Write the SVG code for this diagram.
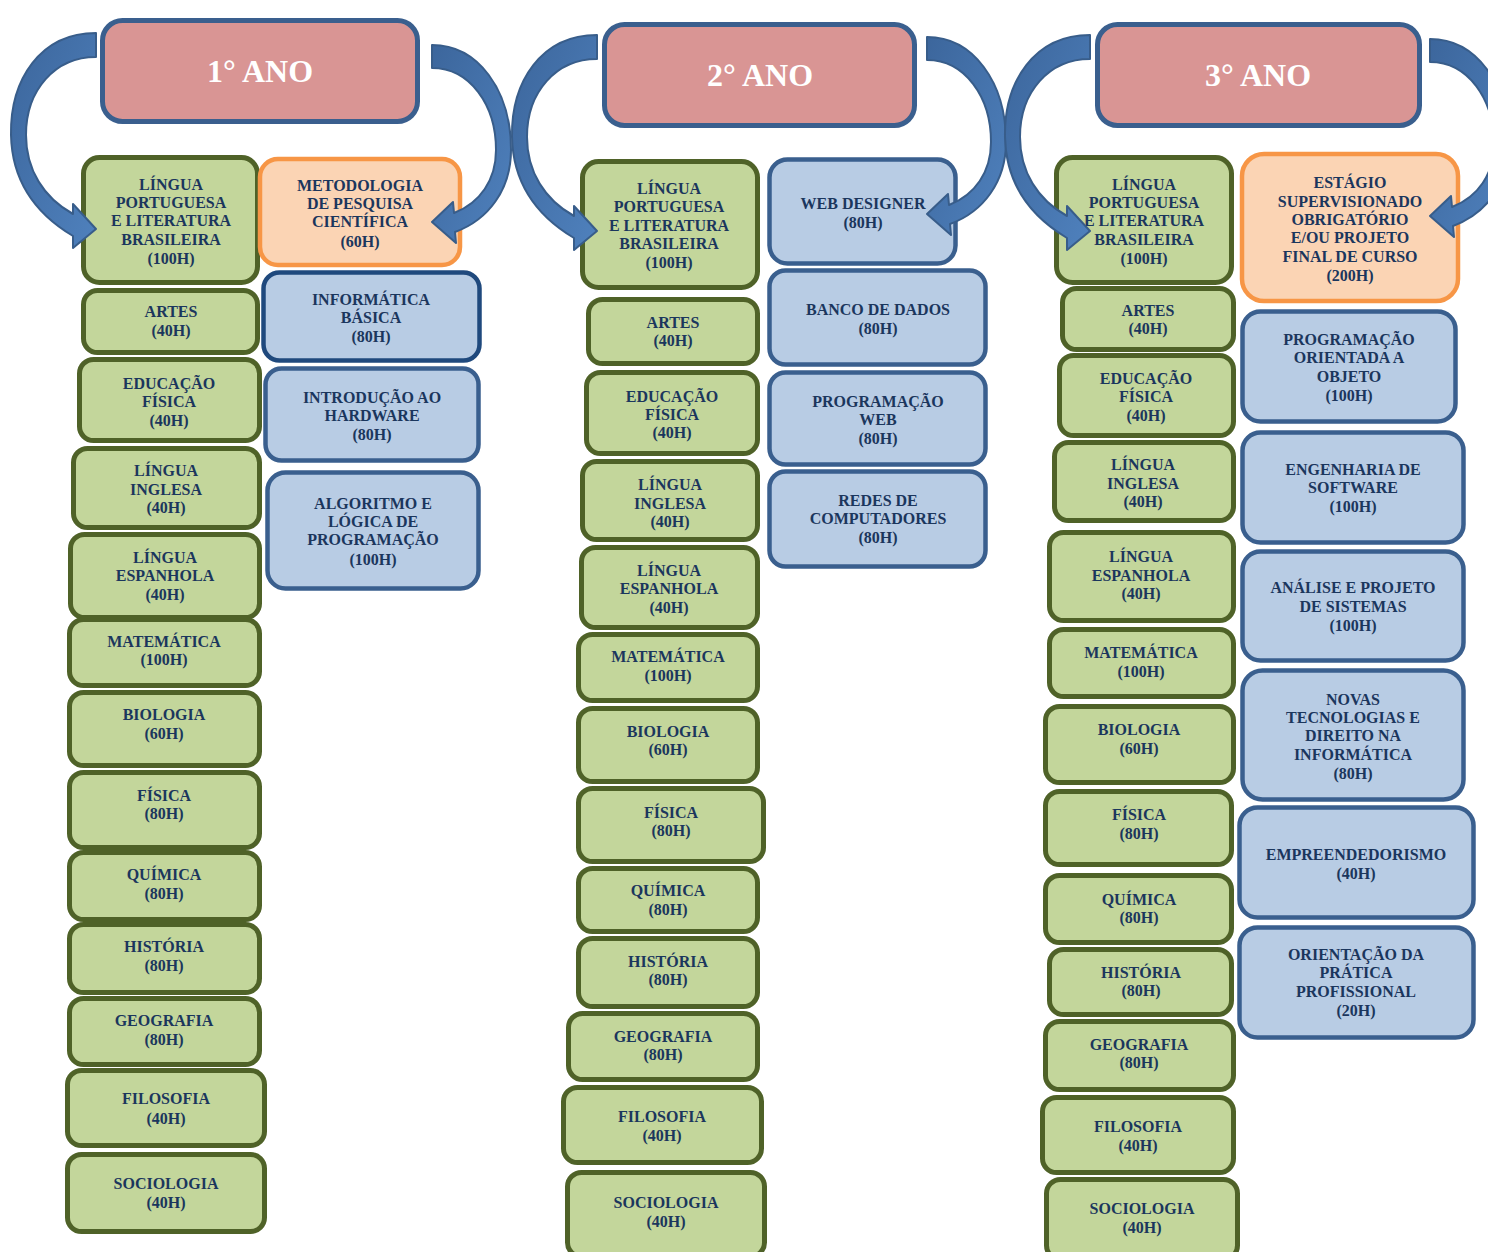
<svg xmlns="http://www.w3.org/2000/svg" width="1488" height="1252" viewBox="0 0 1488 1252">
<defs>
<style>
.hdr{fill:#D99594;stroke:#3A5F8E;stroke-width:5}
.ht{font-family:"Liberation Serif",serif;font-weight:bold;font-size:32px;fill:#FFFFFF;text-anchor:middle}
.g{fill:#C3D69B;stroke:#4F6228;stroke-width:5}
.o{fill:#FBD4B4;stroke:#F79646;stroke-width:4.5}
.b{fill:#B8CCE4;stroke:#3A5F8E;stroke-width:4.5}
.bd{fill:#B8CCE4;stroke:#1F497D;stroke-width:4.5}
.t{font-family:"Liberation Serif",serif;font-weight:bold;font-size:16px;fill:#1B365D;text-anchor:middle}
.arr{fill:url(#ag);stroke:#385D8A;stroke-width:2;stroke-linejoin:round}
</style>
<linearGradient id="ag" x1="0" y1="0" x2="1" y2="1">
<stop offset="0" stop-color="#3C669C"/>
<stop offset="1" stop-color="#4F81BD"/>
</linearGradient>
<path id="larr" d="M 96,33 C 40,33 10,80 11,135 C 12,182 36,214 73,236 L 73,248 L 96,229 L 73,204 L 73,214 C 44,198 26,170 26,135 C 26,90 55,57 96,57 Z"/>
<path id="rarr" d="M 432,45 C 478,45 511,90 511,150 C 511,190 488,220 455,232 L 456,243 L 432,222 L 453,202 L 454,213 C 480,203 496,180 496,150 C 496,105 470,68 432,68 Z"/>
</defs>
<rect width="1488" height="1252" fill="#FFFFFF"/>

<g id="ano1">
<rect class="hdr" x="102.5" y="20.5" width="315" height="101" rx="20"/>
<text class="ht" x="260" y="82">1° ANO</text>
</g>
<g id="ano2">
<rect class="hdr" x="604.5" y="24.5" width="310" height="101" rx="20"/>
<text class="ht" x="760" y="86">2° ANO</text>
</g>
<g id="ano3">
<rect class="hdr" x="1097.5" y="24.5" width="322" height="101" rx="20"/>
<text class="ht" x="1258" y="86">3° ANO</text>
</g>

<!-- Year 1 green -->
<g id="a1-lp"><rect class="g" x="83.5" y="157.5" width="174" height="125" rx="16"/>
<text class="t"><tspan x="171" y="190">LÍNGUA</tspan><tspan x="171" y="208">PORTUGUESA</tspan><tspan x="171" y="226">E LITERATURA</tspan><tspan x="171" y="245">BRASILEIRA</tspan><tspan x="171" y="264">(100H)</tspan></text></g>
<g id="a1-artes"><rect class="g" x="83.5" y="290.5" width="174" height="62" rx="14"/>
<text class="t"><tspan x="171" y="317">ARTES</tspan><tspan x="171" y="336">(40H)</tspan></text></g>
<g id="a1-edf"><rect class="g" x="79.5" y="359.5" width="180" height="81" rx="14"/>
<text class="t"><tspan x="169" y="389">EDUCAÇÃO</tspan><tspan x="169" y="407">FÍSICA</tspan><tspan x="169" y="426">(40H)</tspan></text></g>
<g id="a1-ing"><rect class="g" x="73.5" y="448.5" width="186" height="79" rx="14"/>
<text class="t"><tspan x="166" y="476">LÍNGUA</tspan><tspan x="166" y="495">INGLESA</tspan><tspan x="166" y="513">(40H)</tspan></text></g>
<g id="a1-esp"><rect class="g" x="70.5" y="534.5" width="189" height="83" rx="14"/>
<text class="t"><tspan x="165" y="563">LÍNGUA</tspan><tspan x="165" y="581">ESPANHOLA</tspan><tspan x="165" y="600">(40H)</tspan></text></g>
<g id="a1-mat"><rect class="g" x="69.5" y="619.5" width="190" height="66" rx="14"/>
<text class="t"><tspan x="164" y="647">MATEMÁTICA</tspan><tspan x="164" y="665">(100H)</tspan></text></g>
<g id="a1-bio"><rect class="g" x="69.5" y="692.5" width="190" height="73" rx="14"/>
<text class="t"><tspan x="164" y="720">BIOLOGIA</tspan><tspan x="164" y="739">(60H)</tspan></text></g>
<g id="a1-fis"><rect class="g" x="69.5" y="772.5" width="190" height="75" rx="14"/>
<text class="t"><tspan x="164" y="801">FÍSICA</tspan><tspan x="164" y="819">(80H)</tspan></text></g>
<g id="a1-qui"><rect class="g" x="69.5" y="852.5" width="190" height="67" rx="14"/>
<text class="t"><tspan x="164" y="880">QUÍMICA</tspan><tspan x="164" y="899">(80H)</tspan></text></g>
<g id="a1-his"><rect class="g" x="69.5" y="924.5" width="190" height="68" rx="14"/>
<text class="t"><tspan x="164" y="952">HISTÓRIA</tspan><tspan x="164" y="971">(80H)</tspan></text></g>
<g id="a1-geo"><rect class="g" x="69.5" y="998.5" width="190" height="66" rx="14"/>
<text class="t"><tspan x="164" y="1026">GEOGRAFIA</tspan><tspan x="164" y="1045">(80H)</tspan></text></g>
<g id="a1-fil"><rect class="g" x="67.5" y="1070.5" width="197" height="75" rx="14"/>
<text class="t"><tspan x="166" y="1104">FILOSOFIA</tspan><tspan x="166" y="1124">(40H)</tspan></text></g>
<g id="a1-soc"><rect class="g" x="67.5" y="1154.5" width="197" height="77" rx="14"/>
<text class="t"><tspan x="166" y="1189">SOCIOLOGIA</tspan><tspan x="166" y="1208">(40H)</tspan></text></g>

<!-- Year 1 right -->
<g id="a1-met"><rect class="o" x="260" y="159" width="200" height="106" rx="18"/>
<text class="t"><tspan x="360" y="191">METODOLOGIA</tspan><tspan x="360" y="209">DE PESQUISA</tspan><tspan x="360" y="227">CIENTÍFICA</tspan><tspan x="360" y="247">(60H)</tspan></text></g>
<g id="a1-inf"><rect class="bd" x="263.5" y="272.5" width="216" height="88" rx="16"/>
<text class="t"><tspan x="371" y="305">INFORMÁTICA</tspan><tspan x="371" y="323">BÁSICA</tspan><tspan x="371" y="342">(80H)</tspan></text></g>
<g id="a1-hw"><rect class="b" x="265.5" y="368.5" width="213" height="92" rx="16"/>
<text class="t"><tspan x="372" y="403">INTRODUÇÃO AO</tspan><tspan x="372" y="421">HARDWARE</tspan><tspan x="372" y="440">(80H)</tspan></text></g>
<g id="a1-alg"><rect class="b" x="267.5" y="472.5" width="211" height="116" rx="18"/>
<text class="t"><tspan x="373" y="509">ALGORITMO E</tspan><tspan x="373" y="527">LÓGICA DE</tspan><tspan x="373" y="545">PROGRAMAÇÃO</tspan><tspan x="373" y="565">(100H)</tspan></text></g>

<!-- Year 2 green -->
<g id="a2-lp"><rect class="g" x="582.5" y="161.5" width="175" height="126" rx="16"/>
<text class="t"><tspan x="669" y="194">LÍNGUA</tspan><tspan x="669" y="212">PORTUGUESA</tspan><tspan x="669" y="231">E LITERATURA</tspan><tspan x="669" y="249">BRASILEIRA</tspan><tspan x="669" y="268">(100H)</tspan></text></g>
<g id="a2-artes"><rect class="g" x="588.5" y="299.5" width="169" height="64" rx="14"/>
<text class="t"><tspan x="673" y="328">ARTES</tspan><tspan x="673" y="346">(40H)</tspan></text></g>
<g id="a2-edf"><rect class="g" x="586.5" y="372.5" width="171" height="81" rx="14"/>
<text class="t"><tspan x="672" y="402">EDUCAÇÃO</tspan><tspan x="672" y="420">FÍSICA</tspan><tspan x="672" y="438">(40H)</tspan></text></g>
<g id="a2-ing"><rect class="g" x="582.5" y="461.5" width="175" height="78" rx="14"/>
<text class="t"><tspan x="670" y="490">LÍNGUA</tspan><tspan x="670" y="509">INGLESA</tspan><tspan x="670" y="527">(40H)</tspan></text></g>
<g id="a2-esp"><rect class="g" x="581.5" y="547.5" width="176" height="80" rx="14"/>
<text class="t"><tspan x="669" y="576">LÍNGUA</tspan><tspan x="669" y="594">ESPANHOLA</tspan><tspan x="669" y="613">(40H)</tspan></text></g>
<g id="a2-mat"><rect class="g" x="578.5" y="634.5" width="179" height="66" rx="14"/>
<text class="t"><tspan x="668" y="662">MATEMÁTICA</tspan><tspan x="668" y="681">(100H)</tspan></text></g>
<g id="a2-bio"><rect class="g" x="578.5" y="708.5" width="179" height="73" rx="14"/>
<text class="t"><tspan x="668" y="737">BIOLOGIA</tspan><tspan x="668" y="755">(60H)</tspan></text></g>
<g id="a2-fis"><rect class="g" x="578.5" y="788.5" width="185" height="73" rx="14"/>
<text class="t"><tspan x="671" y="818">FÍSICA</tspan><tspan x="671" y="836">(80H)</tspan></text></g>
<g id="a2-qui"><rect class="g" x="578.5" y="868.5" width="179" height="63" rx="14"/>
<text class="t"><tspan x="668" y="896">QUÍMICA</tspan><tspan x="668" y="915">(80H)</tspan></text></g>
<g id="a2-his"><rect class="g" x="578.5" y="938.5" width="179" height="68" rx="14"/>
<text class="t"><tspan x="668" y="967">HISTÓRIA</tspan><tspan x="668" y="985">(80H)</tspan></text></g>
<g id="a2-geo"><rect class="g" x="568.5" y="1013.5" width="189" height="66" rx="14"/>
<text class="t"><tspan x="663" y="1042">GEOGRAFIA</tspan><tspan x="663" y="1060">(80H)</tspan></text></g>
<g id="a2-fil"><rect class="g" x="563.5" y="1087.5" width="198" height="75" rx="14"/>
<text class="t"><tspan x="662" y="1122">FILOSOFIA</tspan><tspan x="662" y="1141">(40H)</tspan></text></g>
<g id="a2-soc"><rect class="g" x="567.5" y="1172.5" width="197" height="84" rx="14"/>
<text class="t"><tspan x="666" y="1208">SOCIOLOGIA</tspan><tspan x="666" y="1227">(40H)</tspan></text></g>

<!-- Year 2 blue -->
<g id="a2-web"><rect class="b" x="769.5" y="159.5" width="186" height="104" rx="18"/>
<text class="t"><tspan x="863" y="209">WEB DESIGNER</tspan><tspan x="863" y="228">(80H)</tspan></text></g>
<g id="a2-bd"><rect class="b" x="769.5" y="270.5" width="216" height="94" rx="16"/>
<text class="t"><tspan x="878" y="315">BANCO DE DADOS</tspan><tspan x="878" y="334">(80H)</tspan></text></g>
<g id="a2-pw"><rect class="b" x="769.5" y="372.5" width="216" height="92" rx="16"/>
<text class="t"><tspan x="878" y="407">PROGRAMAÇÃO</tspan><tspan x="878" y="425">WEB</tspan><tspan x="878" y="444">(80H)</tspan></text></g>
<g id="a2-redes"><rect class="b" x="769.5" y="471.5" width="216" height="95" rx="16"/>
<text class="t"><tspan x="878" y="506">REDES DE</tspan><tspan x="878" y="524">COMPUTADORES</tspan><tspan x="878" y="543">(80H)</tspan></text></g>

<!-- Year 3 green -->
<g id="a3-lp"><rect class="g" x="1056.5" y="157.5" width="175" height="125" rx="16"/>
<text class="t"><tspan x="1144" y="190">LÍNGUA</tspan><tspan x="1144" y="208">PORTUGUESA</tspan><tspan x="1144" y="226">E LITERATURA</tspan><tspan x="1144" y="245">BRASILEIRA</tspan><tspan x="1144" y="264">(100H)</tspan></text></g>
<g id="a3-artes"><rect class="g" x="1062.5" y="288.5" width="171" height="61" rx="14"/>
<text class="t"><tspan x="1148" y="316">ARTES</tspan><tspan x="1148" y="334">(40H)</tspan></text></g>
<g id="a3-edf"><rect class="g" x="1059.5" y="355.5" width="174" height="80" rx="14"/>
<text class="t"><tspan x="1146" y="384">EDUCAÇÃO</tspan><tspan x="1146" y="402">FÍSICA</tspan><tspan x="1146" y="421">(40H)</tspan></text></g>
<g id="a3-ing"><rect class="g" x="1054.5" y="442.5" width="179" height="78" rx="14"/>
<text class="t"><tspan x="1143" y="470">LÍNGUA</tspan><tspan x="1143" y="489">INGLESA</tspan><tspan x="1143" y="507">(40H)</tspan></text></g>
<g id="a3-esp"><rect class="g" x="1049.5" y="532.5" width="184" height="88" rx="14"/>
<text class="t"><tspan x="1141" y="562">LÍNGUA</tspan><tspan x="1141" y="581">ESPANHOLA</tspan><tspan x="1141" y="599">(40H)</tspan></text></g>
<g id="a3-mat"><rect class="g" x="1049.5" y="629.5" width="184" height="67" rx="14"/>
<text class="t"><tspan x="1141" y="658">MATEMÁTICA</tspan><tspan x="1141" y="677">(100H)</tspan></text></g>
<g id="a3-bio"><rect class="g" x="1045.5" y="706.5" width="188" height="76" rx="14"/>
<text class="t"><tspan x="1139" y="735">BIOLOGIA</tspan><tspan x="1139" y="754">(60H)</tspan></text></g>
<g id="a3-fis"><rect class="g" x="1045.5" y="791.5" width="186" height="73" rx="14"/>
<text class="t"><tspan x="1139" y="820">FÍSICA</tspan><tspan x="1139" y="839">(80H)</tspan></text></g>
<g id="a3-qui"><rect class="g" x="1045.5" y="875.5" width="186" height="67" rx="14"/>
<text class="t"><tspan x="1139" y="905">QUÍMICA</tspan><tspan x="1139" y="923">(80H)</tspan></text></g>
<g id="a3-his"><rect class="g" x="1049.5" y="949.5" width="182" height="65" rx="14"/>
<text class="t"><tspan x="1141" y="978">HISTÓRIA</tspan><tspan x="1141" y="996">(80H)</tspan></text></g>
<g id="a3-geo"><rect class="g" x="1045.5" y="1021.5" width="188" height="68" rx="14"/>
<text class="t"><tspan x="1139" y="1050">GEOGRAFIA</tspan><tspan x="1139" y="1068">(80H)</tspan></text></g>
<g id="a3-fil"><rect class="g" x="1042.5" y="1097.5" width="191" height="75" rx="14"/>
<text class="t"><tspan x="1138" y="1132">FILOSOFIA</tspan><tspan x="1138" y="1151">(40H)</tspan></text></g>
<g id="a3-soc"><rect class="g" x="1046.5" y="1179.5" width="191" height="80" rx="14"/>
<text class="t"><tspan x="1142" y="1214">SOCIOLOGIA</tspan><tspan x="1142" y="1233">(40H)</tspan></text></g>

<!-- Year 3 right -->
<g id="a3-est"><rect class="o" x="1242" y="154" width="216" height="147" rx="22"/>
<text class="t"><tspan x="1350" y="188">ESTÁGIO</tspan><tspan x="1350" y="207">SUPERVISIONADO</tspan><tspan x="1350" y="225">OBRIGATÓRIO</tspan><tspan x="1350" y="243">E/OU PROJETO</tspan><tspan x="1350" y="262">FINAL DE CURSO</tspan><tspan x="1350" y="281">(200H)</tspan></text></g>
<g id="a3-poo"><rect class="b" x="1242.5" y="311.5" width="213" height="110" rx="18"/>
<text class="t"><tspan x="1349" y="345">PROGRAMAÇÃO</tspan><tspan x="1349" y="363">ORIENTADA A</tspan><tspan x="1349" y="382">OBJETO</tspan><tspan x="1349" y="401">(100H)</tspan></text></g>
<g id="a3-es"><rect class="b" x="1242.5" y="432.5" width="221" height="110" rx="18"/>
<text class="t"><tspan x="1353" y="475">ENGENHARIA DE</tspan><tspan x="1353" y="493">SOFTWARE</tspan><tspan x="1353" y="512">(100H)</tspan></text></g>
<g id="a3-aps"><rect class="b" x="1242.5" y="551.5" width="221" height="109" rx="18"/>
<text class="t"><tspan x="1353" y="593">ANÁLISE E PROJETO</tspan><tspan x="1353" y="612">DE SISTEMAS</tspan><tspan x="1353" y="631">(100H)</tspan></text></g>
<g id="a3-ntd"><rect class="b" x="1242.5" y="670.5" width="221" height="129" rx="20"/>
<text class="t"><tspan x="1353" y="705">NOVAS</tspan><tspan x="1353" y="723">TECNOLOGIAS E</tspan><tspan x="1353" y="741">DIREITO NA</tspan><tspan x="1353" y="760">INFORMÁTICA</tspan><tspan x="1353" y="779">(80H)</tspan></text></g>
<g id="a3-emp"><rect class="b" x="1239.5" y="807.5" width="234" height="110" rx="18"/>
<text class="t"><tspan x="1356" y="860">EMPREENDEDORISMO</tspan><tspan x="1356" y="879">(40H)</tspan></text></g>
<g id="a3-opp"><rect class="b" x="1239.5" y="927.5" width="234" height="110" rx="18"/>
<text class="t"><tspan x="1356" y="960">ORIENTAÇÃO DA</tspan><tspan x="1356" y="978">PRÁTICA</tspan><tspan x="1356" y="997">PROFISSIONAL</tspan><tspan x="1356" y="1016">(20H)</tspan></text></g>

<g id="connectors">
<use href="#larr" class="arr"/>
<use href="#rarr" class="arr"/>
<use href="#larr" class="arr" transform="translate(501,2)"/>
<use href="#rarr" class="arr" transform="translate(495,-8)"/>
<use href="#larr" class="arr" transform="translate(994,2)"/>
<use href="#rarr" class="arr" transform="translate(998,-6)"/>
</g>
</svg>
